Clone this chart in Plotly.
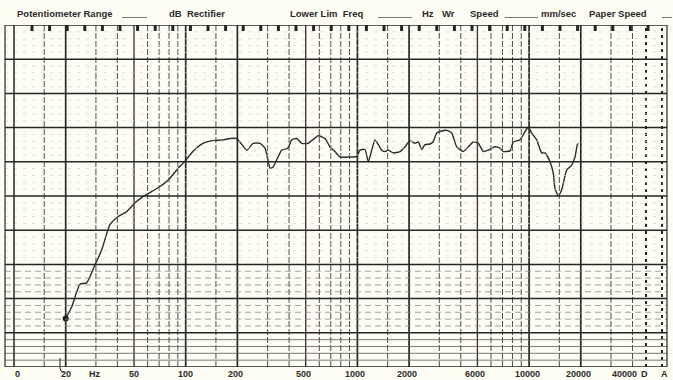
import numpy as np
import plotly.graph_objects as go

# Measured response: frequency (Hz) and recorded level (dB on the chart scale)
freq_hz = [20, 21.7, 24.2, 26.5, 29.6, 32.4, 36.2, 40.5, 45.3, 50.7, 56.4, 69, 78.9, 88.6,
           99.1, 110, 126, 144, 165, 181, 198, 207, 227, 247, 271, 290, 310, 322, 345, 362,
           394, 414, 443, 474, 516, 592, 648, 692, 740, 792, 906, 991, 1035, 1107, 1158,
           1212, 1266, 1324, 1385, 1448, 1513, 1618, 1770, 1893, 2025, 2165, 2263, 2369,
           2476, 2648, 2756, 2897, 3097, 3313, 3542, 3788, 4139, 4425, 4732, 5060, 5411,
           5788, 6330, 6768, 7074, 7740, 8090, 8851, 9465, 9893, 10354, 11072, 11843,
           12377, 13235, 13833, 14153, 14792, 15480, 16554, 17705, 18507, 19087, 19344]
level_db = [7.1, 8.8, 12.1, 12.3, 14.9, 17.1, 20.8, 22.0, 22.7, 24.0, 24.9, 26.2, 27.3, 28.8,
            30.1, 31.5, 32.7, 33.1, 33.2, 33.4, 33.4, 32.9, 31.7, 32.7, 32.7, 32.0, 29.1, 29.2,
            30.7, 31.7, 32.0, 33.2, 33.4, 32.7, 32.7, 33.8, 33.4, 32.2, 31.5, 30.7, 30.7, 30.8,
            31.7, 31.8, 30.0, 31.7, 33.2, 32.5, 31.7, 31.5, 31.7, 31.3, 31.5, 32.2, 33.1, 32.7,
            32.9, 31.8, 32.5, 32.6, 32.9, 34.2, 34.5, 34.6, 34.2, 32.2, 31.5, 32.2, 32.9, 32.7,
            31.5, 31.7, 32.2, 32.0, 31.5, 31.6, 32.9, 33.2, 34.4, 35.1, 34.2, 33.2, 31.3, 31.3,
            30.0, 28.3, 26.1, 25.0, 25.9, 28.8, 29.5, 30.7, 32.5, 32.7]

# Chart paper grid
major_freqs = [20, 100, 200, 1000, 2000, 10000, 20000]
medium_freqs = [50, 500, 5000]
minor_freqs = [15, 30, 40, 60, 70, 80, 90, 150, 300, 400, 600, 700, 800, 900,
               1500, 3000, 4000, 6000, 7000, 8000, 9000, 15000, 30000, 40000]
db_range = [0, 50]
db_major_step = 5

# Frequency scale labels printed under the paper
tick_freqs = [10, 20, 50, 100, 200, 500, 1000, 2000, 5000, 10000, 20000, 40000]
tick_labels = ["0", "20", "50", "100", "200", "500", "1000", "2000", "6000", "10000", "20000", "40000"]

W, H = 673, 380
L, R, T, B = 14, 6, 25, 13
PW, PH = W - L - R, H - T - B
DECADE_PX = 171.7
x_range = [1, 1 + PW / DECADE_PX]


def px(xp):
    return (xp - L) / PW


def py(yp):
    return (H - B - yp) / PH


INK = "#262626"
BG = "#fdfdf4"
shapes = []

# vertical frequency lines (shapes on a log axis take plain Hz values)
for f in minor_freqs:
    shapes.append(dict(type="line", xref="x", yref="paper", x0=f, x1=f,
                       y0=0, y1=1, line=dict(color="#4e4a4e", width=1.0, dash="6px,2px")))
for f in medium_freqs:
    shapes.append(dict(type="line", xref="x", yref="paper", x0=f, x1=f,
                       y0=0, y1=1, line=dict(color="#45353f", width=1.4)))
for f in major_freqs:
    shapes.append(dict(type="line", xref="x", yref="paper", x0=f, x1=f,
                       y0=0, y1=1, line=dict(color=INK, width=1.7)))

# weighting columns D and A at the right edge
for xp in (646, 662):
    shapes.append(dict(type="line", xref="paper", yref="paper", x0=px(xp), x1=px(xp),
                       y0=0, y1=1, line=dict(color=INK, width=2, dash="3px,4px")))

# horizontal level lines
for d in range(db_range[0] + 1, db_range[1]):
    if d % db_major_step == 0:
        continue
    if d < db_major_step:
        col, dash, wd = "#5a5a5a", "solid", 0.8
    elif d < 3 * db_major_step:
        col, dash, wd = "#8a8a8a", "6px,4px", 0.8
    else:
        col, dash, wd = "#d2d2c8", "3px,6px", 0.7
    shapes.append(dict(type="line", xref="paper", yref="y", x0=px(5), x1=1, y0=d, y1=d,
                       line=dict(color=col, width=wd, dash=dash)))
for d in range(db_range[0], db_range[1] + 1, db_major_step):
    shapes.append(dict(type="line", xref="paper", yref="y", x0=px(5), x1=1, y0=d, y1=d,
                       line=dict(color=INK, width=1.5)))

# frame edges
shapes.append(dict(type="line", xref="paper", yref="paper", x0=0, x1=0, y0=0, y1=1,
                   line=dict(color=INK, width=1.5)))
shapes.append(dict(type="line", xref="paper", yref="paper", x0=px(5), x1=px(5), y0=0, y1=1,
                   line=dict(color=INK, width=1.2)))
shapes.append(dict(type="line", xref="paper", yref="paper", x0=1, x1=1, y0=0, y1=1,
                   line=dict(color=INK, width=1.2)))

# sprocket marks along the top edge
for k in range(37):
    xp = 32 + k * 17.6
    if xp > 660:
        break
    shapes.append(dict(type="rect", xref="paper", yref="paper", x0=px(xp - 1.5), x1=px(xp + 1.5),
                       y0=py(31), y1=py(25), fillcolor=INK, line=dict(width=0)))

# pen start mark below 20 Hz
shapes.append(dict(type="path", xref="paper", yref="paper",
                   path=f"M {px(60)} {py(358)} L {px(60)} {py(368)} Q {px(60)} {py(372)} {px(64)} {py(372)}",
                   line=dict(color=INK, width=1)))

fig = go.Figure()
fig.add_trace(go.Scatter(
    x=freq_hz, y=level_db, mode="lines",
    line=dict(color="#2b2b2b", width=1.4, shape="spline", smoothing=0.5),
    hoverinfo="skip"))
fig.add_trace(go.Scatter(
    x=[freq_hz[0]], y=[level_db[0]], mode="markers",
    marker=dict(color="#1a1a1a", size=6), hoverinfo="skip"))

annotations = []
hdr_font = dict(family="Liberation Sans", size=9.5, color="#2a2a2a")
header = [("<b>Potentiometer Range</b>", 15), ("<b>dB  Rectifier</b>", 167),
          ("<b>Lower Lim  Freq</b>", 288), ("<b>Hz</b>", 420), ("<b>Wr</b>", 440),
          ("<b>Speed</b>", 468), ("<b>mm/sec</b>", 539), ("<b>Paper Speed</b>", 587)]
for txt, xp in header:
    annotations.append(dict(text=txt, x=px(xp), y=py(14), xref="paper", yref="paper",
                            xanchor="left", yanchor="middle", showarrow=False, font=hdr_font))
for x0, x1 in [(122, 147), (378, 412), (505, 538), (662, 672)]:
    shapes.append(dict(type="line", xref="paper", yref="paper", x0=px(x0), x1=px(x1),
                       y0=py(17.5), y1=py(17.5), line=dict(color="#555", width=0.8)))

lbl_font = dict(family="Liberation Sans", size=9, color="#2a2a2a")
lbl_y = py(379.5)
for f, t in zip(tick_freqs, tick_labels):
    shift = -8 if f == 40000 else (-2 if f >= 200 else 0)
    annotations.append(dict(text=f"<b>{t}</b>", x=np.log10(f), y=lbl_y, xref="x", yref="paper",
                            xanchor="center", yanchor="bottom", showarrow=False, borderpad=0,
                            xshift=shift + (3 if f == 10 else 0), font=lbl_font))
for txt, xp in [("Hz", 95), ("D", 644), ("A", 664)]:
    annotations.append(dict(text=f"<b>{txt}</b>", x=px(xp), y=lbl_y, xref="paper", yref="paper",
                            xanchor="center", yanchor="bottom", showarrow=False, borderpad=0,
                            font=lbl_font))

fig.update_layout(
    width=W, height=H,
    margin=dict(l=L, r=R, t=T, b=B),
    paper_bgcolor=BG, plot_bgcolor=BG,
    showlegend=False,
    shapes=shapes,
    annotations=annotations,
    xaxis=dict(type="log", range=x_range, showgrid=False, zeroline=False,
               showticklabels=False, ticks="", fixedrange=True),
    yaxis=dict(range=db_range, showgrid=False, zeroline=False,
               showticklabels=False, ticks="", fixedrange=True),
)

fig.write_html("out.html")
